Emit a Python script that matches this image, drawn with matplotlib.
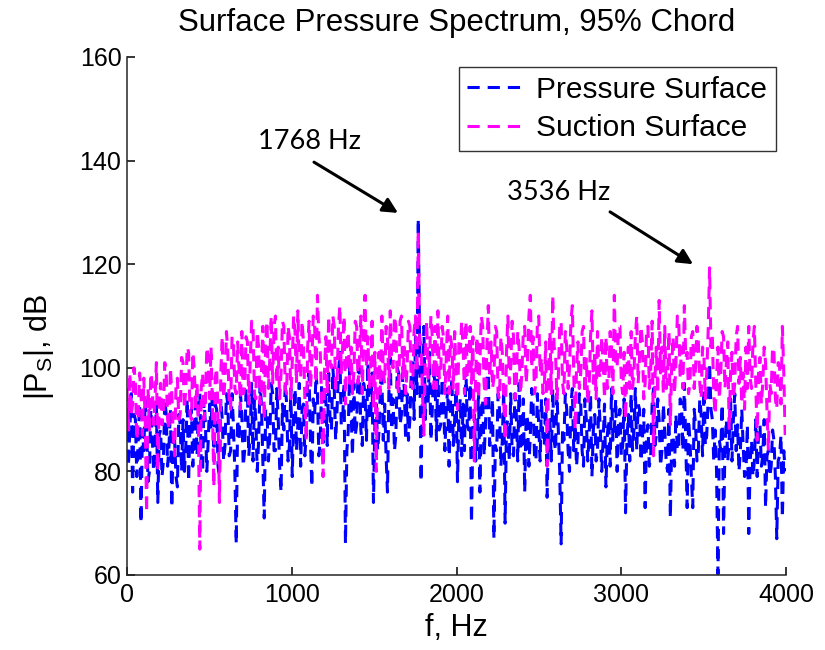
import numpy as np
import matplotlib
matplotlib.use("Agg")
import matplotlib.pyplot as plt

plt.rcParams["font.family"] = ["Liberation Sans", "DejaVu Sans"]
plt.rcParams["mathtext.fontset"] = "custom"
plt.rcParams["mathtext.rm"] = "Liberation Sans"
plt.rcParams["mathtext.it"] = "Liberation Sans"

# Frequency bins, 8.5 Hz apart (0 .. 3995 Hz)
df_hz = 8.5

# Pressure-surface spectrum, dB (20 bins = 170 Hz per row)
pressure_db = [
    92, 81, 88, 95, 76, 91, 90, 79, 86, 93, 70, 88, 84, 94, 89, 78, 80, 92, 87, 80,
    84, 93, 74, 87, 88, 79, 82, 94, 91, 81, 85, 92, 73, 88, 86, 79, 77, 91, 89, 80,
    90, 80, 85, 94, 78, 90, 92, 81, 87, 95, 83, 93, 95, 82, 80, 94, 89, 80, 86, 93,
    88, 96, 82, 93, 92, 81, 79, 94, 90, 82, 85, 95, 93, 83, 84, 95, 89, 80, 66, 90,
    86, 95, 91, 81, 84, 96, 95, 83, 88, 97, 82, 94, 90, 80, 86, 97, 93, 82, 71, 92,
    92, 82, 87, 97, 95, 84, 84, 96, 90, 81, 76, 93, 88, 97, 93, 82, 85, 96, 79, 91,
    96, 84, 89, 97, 81, 92, 93, 83, 87, 98, 99, 86, 77, 94, 91, 99, 95, 83, 86, 97,
    81, 96, 94, 85, 99, 90, 88, 100, 96, 86, 92, 99, 103, 89, 90, 97, 66, 84, 88, 100,
    92, 83, 97, 87, 89, 99, 100, 88, 85, 97, 95, 86, 101, 91, 90, 99, 74, 89, 93, 84,
    88, 97, 98, 86, 93, 83, 76, 95, 102, 88, 94, 84, 87, 100, 99, 89, 91, 99, 96, 86,
    95, 86, 90, 99, 101, 90, 106, 95, 128.8, 104, 78, 97, 108, 90, 97, 93, 103, 86, 92, 99,
    97, 86, 100, 88, 89, 98, 95, 84, 92, 96, 81, 93, 98, 85, 90, 96, 78, 91, 94, 83,
    93, 84, 100, 89, 88, 97, 70, 88, 91, 82, 85, 96, 76, 92, 94, 83, 89, 98, 99, 85,
    88, 94, 67, 85, 84, 95, 92, 81, 86, 96, 70, 89, 90, 82, 95, 84, 83, 95, 91, 82,
    97, 84, 85, 94, 76, 91, 90, 81, 87, 96, 93, 83, 82, 95, 89, 82, 94, 86, 85, 94,
    75, 88, 90, 82, 96, 86, 84, 95, 88, 80, 66, 88, 86, 95, 92, 84, 80, 93, 96, 84,
    89, 81, 85, 95, 93, 84, 81, 94, 90, 82, 87, 95, 79, 88, 91, 82, 84, 94, 88, 80,
    86, 93, 77, 87, 90, 81, 96, 86, 88, 94, 80, 90, 92, 83, 85, 94, 72, 86, 91, 82,
    95, 84, 88, 96, 84, 93, 92, 82, 86, 92, 73, 87, 89, 81, 83, 93, 96, 85, 87, 94,
    90, 81, 84, 93, 88, 82, 80, 92, 71, 86, 87, 81, 91, 84, 85, 94, 93, 84, 97, 86,
    73, 90, 86, 79, 73, 92, 89, 82, 84, 94, 91, 83, 96, 85, 87, 94, 101, 92, 90, 82,
    88, 80, 60.2, 86, 84, 93, 68, 85, 90, 82, 86, 94, 82, 90, 95, 84, 89, 80, 84, 92,
    85, 79, 80, 89, 68, 82, 86, 79, 82, 90, 79, 88, 89, 81, 83, 90, 73, 83, 84, 79,
    81, 88, 86, 79, 67, 82, 83, 87, 71, 84, 80,
]

# Suction-surface spectrum, dB (20 bins = 170 Hz per row)
suction_db = [
    96, 88, 99, 91, 93, 100, 97, 86, 90, 99, 95, 87, 98, 90, 72, 96, 88, 99, 97, 89,
    94, 101, 80, 93, 97, 89, 92, 101, 99, 90, 88, 100, 95, 87, 83, 97, 98, 90, 91, 102,
    101, 92, 96, 104, 103, 91, 90, 103, 100, 92, 97, 88, 65, 96, 99, 90, 93, 104, 102, 94,
    104, 93, 77, 98, 100, 91, 74, 99, 106, 94, 98, 107, 103, 93, 92, 106, 105, 96, 95, 105,
    100, 92, 107, 95, 96, 106, 105, 93, 101, 109, 108, 95, 94, 107, 104, 93, 99, 108, 90, 105,
    109, 96, 102, 110, 97, 108, 110, 97, 104, 94, 99, 109, 108, 96, 95, 108, 106, 94, 101, 110,
    107, 97, 111, 100, 98, 109, 105, 94, 86, 104, 109, 96, 101, 110, 108, 97, 114, 106, 103, 93,
    79, 99, 106, 95, 110, 101, 100, 110, 108, 96, 97, 108, 112, 99, 104, 110, 93, 105, 107, 97,
    104, 95, 99, 109, 108, 97, 102, 110, 95, 107, 114, 100, 106, 96, 100, 109, 92, 103, 80, 99,
    103, 95, 110, 99, 97, 108, 106, 96, 111, 101, 100, 110, 108, 97, 95, 109, 110, 98, 104, 95,
    100, 109, 108, 97, 96, 107, 110, 99, 126.5, 106, 104, 95, 87, 102, 109, 98, 101, 110, 106, 96,
    108, 96, 111, 98, 99, 108, 106, 95, 102, 110, 95, 106, 104, 96, 107, 99, 92, 105, 103, 109,
    104, 95, 109, 98, 100, 108, 97, 106, 82, 99, 106, 94, 101, 110, 108, 97, 93, 104, 112, 98,
    105, 96, 98, 108, 107, 95, 94, 106, 103, 94, 86, 103, 110, 97, 100, 109, 106, 94, 97, 107,
    104, 95, 99, 107, 108, 97, 101, 110, 114, 100, 106, 95, 97, 108, 110, 99, 102, 95, 96, 105,
    81, 98, 107, 95, 114, 104, 103, 94, 98, 108, 109, 97, 95, 107, 104, 96, 100, 109, 112, 99,
    88, 100, 105, 96, 99, 107, 108, 95, 102, 93, 96, 106, 111, 97, 103, 94, 107, 99, 98, 106,
    101, 94, 106, 96, 97, 107, 104, 95, 114, 101, 100, 108, 108, 97, 95, 103, 90, 100, 104, 96,
    107, 96, 99, 106, 110, 97, 102, 108, 105, 94, 97, 107, 108, 96, 100, 109, 83, 98, 104, 95,
    113, 99, 104, 95, 108, 96, 98, 107, 89, 101, 106, 95, 101, 110, 109, 98, 104, 96, 112, 102,
    103, 95, 97, 106, 107, 96, 100, 108, 105, 97, 94, 104, 102, 94, 99, 107, 119.3, 104, 106, 95,
    91, 98, 104, 94, 99, 107, 106, 96, 101, 105, 88, 99, 103, 94, 97, 106, 108, 97, 102, 93,
    99, 92, 104, 96, 108, 98, 96, 105, 108, 97, 86, 99, 102, 93, 97, 104, 101, 92, 84, 97,
    95, 104, 103, 94, 92, 101, 100, 93, 108, 99, 87,
]

freq = np.arange(len(pressure_db)) * df_hz

# Tonal peaks that get labelled
peak_freqs = [1768, 3536]
peak_labels = ["1768 Hz", "3536 Hz"]

x_ticks = [0, 1000, 2000, 3000, 4000]
y_ticks = [60, 80, 100, 120, 140, 160]

fig = plt.figure(figsize=(8.25, 6.5), dpi=100)
ax = fig.add_axes([127 / 825, 75 / 650, 659 / 825, 518 / 650])

dash = (0, (4, 2.6))
ax.plot(freq, pressure_db, color="#0000FF", lw=2.2, linestyle=dash,
        label="Pressure Surface")
ax.plot(freq, suction_db, color="#FF00FF", lw=2.2, linestyle=dash,
        label="Suction Surface")

ax.set_xlim(0, 4000)
ax.set_ylim(60, 160)
ax.set_xticks(x_ticks)
ax.set_yticks(y_ticks)
ax.tick_params(direction="in", length=6, width=1.1, labelsize=18,
               colors="black")
ax.tick_params(axis="x", pad=6)
ax.tick_params(axis="y", pad=4)
for side in ("top", "right"):
    ax.spines[side].set_visible(False)
for side in ("left", "bottom"):
    ax.spines[side].set_linewidth(1.1)
    ax.spines[side].set_color("#262626")

ax.set_title("Surface Pressure Spectrum, 95% Chord", fontsize=22.5, pad=19)
ax.set_xlabel("f, Hz", fontsize=22, labelpad=4)
ax.set_ylabel(r"|P$_\mathrm{S}$|, dB", fontsize=22)
ax.yaxis.set_label_coords(-0.107, 0.44)

leg = ax.legend(loc="upper right", bbox_to_anchor=(0.985, 0.981),
                borderaxespad=0, fontsize=21.5, frameon=True, fancybox=False,
                handlelength=2.0, handletextpad=0.3, labelspacing=0.35,
                borderpad=0.3)
leg.get_frame().set_edgecolor("black")
leg.get_frame().set_linewidth(1.0)

# Arrowed labels pointing at the two tonal peaks
peak_idx = [int(round(f / df_hz)) for f in peak_freqs]
peak_levels = [max(pressure_db[i], suction_db[i]) for i in peak_idx]
text_offsets = [(-663, 14.8), (-914, 14.6)]
tail_offsets = [(-633, 10.9), (-604, 10.8)]
tip_offsets = [(-123, 1.1), (-100, 0.7)]
for f, lvl, lab, toff, tail, tip in zip(peak_freqs, peak_levels, peak_labels,
                                        text_offsets, tail_offsets, tip_offsets):
    ax.text(f + toff[0], lvl + toff[1], lab, fontsize=19.5,
            family=["Lato", "DejaVu Sans"], ha="center", va="center")
    ax.annotate("", xy=(f + tip[0], lvl + tip[1]),
                xytext=(f + tail[0], lvl + tail[1]),
                arrowprops=dict(arrowstyle="-|>,head_length=0.9,head_width=0.45",
                                color="black", lw=2.2, shrinkA=0, shrinkB=0))

fig.savefig("out.png", dpi=100)
